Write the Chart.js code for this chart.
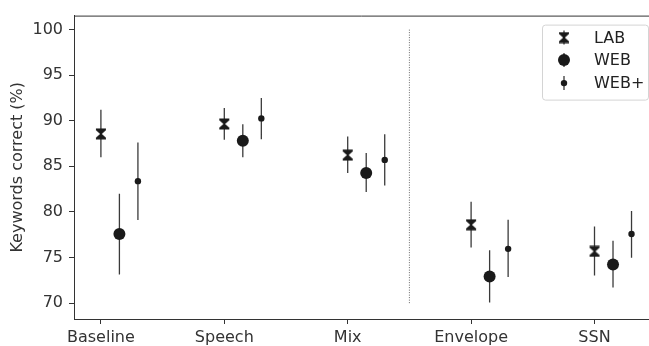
<!DOCTYPE html>
<html>
<head>
<meta charset="utf-8">
<script src="https://cdn.jsdelivr.net/npm/chart.js@4.4.1/dist/chart.umd.min.js"></script>
<style>
  html, body { margin: 0; padding: 0; background: #fff; }
  #wrap { width: 649px; height: 346px; position: relative; }
</style>
</head>
<body>
<div id="wrap"><canvas id="chart"></canvas></div>
<script>
const categories = ["Baseline", "Speech", "Mix", "Envelope", "SSN"];
const seriesNames = ["LAB", "WEB", "WEB+"];

const labMean = [88.55, 89.64, 86.23, 78.59, 75.68];
const labLow = [86.0, 87.9, 84.27, 76.1, 73.04];
const labHigh = [91.2, 91.4, 88.26, 81.1, 78.4];

const webMean = [77.57, 87.8, 84.27, 72.93, 74.24];
const webLow = [73.15, 86.0, 82.17, 70.07, 71.7];
const webHigh = [82.0, 89.6, 86.45, 75.8, 76.85];

const webPlusMean = [83.37, 90.25, 85.7, 75.95, 77.57];
const webPlusLow = [79.1, 87.97, 82.9, 72.86, 74.97];
const webPlusHigh = [87.6, 92.5, 88.5, 79.13, 80.1];

const yTicks = [70, 75, 80, 85, 90, 95, 100];
const seriesOffsets = [0, 0.15, 0.3];
const dividerX = 2.5;
const dividerRange = [70, 100];

const ink = "#1a1a1a";
const textColor = "#333";
const font = "'DejaVu Sans', sans-serif";

// hourglass marker for LAB
const hourglass = document.createElement("canvas");
hourglass.width = 12;
hourglass.height = 12;
(() => {
  const c = hourglass.getContext("2d");
  c.fillStyle = ink;
  c.beginPath();
  c.moveTo(1, 0.5);
  c.lineTo(11, 0.5);
  c.lineTo(11, 2.2);
  c.lineTo(6.9, 6);
  c.lineTo(11, 9.8);
  c.lineTo(11, 11.5);
  c.lineTo(1, 11.5);
  c.lineTo(1, 9.8);
  c.lineTo(5.1, 6);
  c.lineTo(1, 2.2);
  c.closePath();
  c.fill();
})();

const markerStyles = [
  { pointStyle: hourglass, radius: 6 },
  { pointStyle: "circle", radius: 6 },
  { pointStyle: "circle", radius: 3.2 },
];

const means = [labMean, webMean, webPlusMean];
const lows = [labLow, webLow, webPlusLow];
const highs = [labHigh, webHigh, webPlusHigh];

const datasets = [];
means.forEach((m, s) => {
  datasets.push({
    type: "scatter",
    label: seriesNames[s],
    data: m.map((v, i) => ({ x: i + seriesOffsets[s], y: v })),
    pointStyle: markerStyles[s].pointStyle,
    pointRadius: markerStyles[s].radius,
    pointHoverRadius: markerStyles[s].radius,
    backgroundColor: ink,
    borderColor: ink,
    borderWidth: 0,
    order: 0,
  });
  // error bars: low -> high segments separated by gaps
  const err = [];
  m.forEach((v, i) => {
    const x = i + seriesOffsets[s];
    err.push({ x: x, y: lows[s][i] }, { x: x, y: highs[s][i] }, { x: x, y: null });
  });
  datasets.push({
    type: "line",
    label: seriesNames[s] + " err",
    data: err,
    borderColor: "#3a3a3a",
    borderWidth: 1.3,
    pointRadius: 0,
    spanGaps: false,
    fill: false,
    order: 1,
  });
});

datasets.push({
  type: "line",
  label: "divider",
  data: [{ x: dividerX, y: dividerRange[0] }, { x: dividerX, y: dividerRange[1] }],
  borderColor: "#666",
  borderWidth: 1,
  borderDash: [1, 1.5],
  pointRadius: 0,
  order: 2,
});

const framePlugin = {
  id: "frame",
  afterDraw(chart) {
    const { ctx, chartArea } = chart;
    ctx.save();
    // top spine runs to the edge of the figure, bottom one too
    ctx.strokeStyle = "#333";
    ctx.lineWidth = 1;
    ctx.beginPath();
    ctx.moveTo(chartArea.left, chartArea.top + 0.5);
    ctx.lineTo(chart.width, chartArea.top + 0.5);
    ctx.moveTo(chartArea.right - 1, chartArea.bottom + 0.5);
    ctx.lineTo(chart.width, chartArea.bottom + 0.5);
    ctx.stroke();

    // legend box
    const bx = 542, by = chartArea.top + 9, bw = 106, bh = 75;
    ctx.fillStyle = "rgba(255,255,255,0.8)";
    ctx.strokeStyle = "#d4d4d4";
    ctx.beginPath();
    ctx.roundRect(bx + 0.5, by + 0.5, bw, bh, 3);
    ctx.fill();
    ctx.stroke();

    ctx.font = "16px " + font;
    ctx.textBaseline = "middle";
    const rows = [by + 13, by + 35.5, by + 58.5];
    seriesNames.forEach((name, s) => {
      const mx = bx + 22, my = rows[s];
      ctx.strokeStyle = "#3a3a3a";
      ctx.lineWidth = 1.3;
      ctx.beginPath();
      ctx.moveTo(mx, my - 7);
      ctx.lineTo(mx, my + 7);
      ctx.stroke();
      if (s === 0) {
        ctx.drawImage(hourglass, mx - 6, my - 6);
      } else {
        ctx.fillStyle = ink;
        ctx.beginPath();
        ctx.arc(mx, my, markerStyles[s].radius, 0, Math.PI * 2);
        ctx.fill();
      }
      ctx.fillStyle = "#222";
      ctx.fillText(name, bx + 52, my + 1);
    });
    ctx.restore();
  },
};

new Chart(document.getElementById("chart"), {
  data: { datasets: datasets },
  options: {
    responsive: true,
    maintainAspectRatio: false,
    animation: false,
    layout: { padding: { top: 13, right: 0, left: 0, bottom: 0 } },
    plugins: {
      legend: { display: false },
      tooltip: { enabled: false },
    },
    scales: {
      x: {
        type: "linear",
        min: -0.218,
        max: 4.393,
        afterBuildTicks: (scale) => {
          scale.ticks = categories.map((c, i) => ({ value: i }));
        },
        afterFit: (scale) => {
          scale.height = 27;
          scale.paddingLeft = 0;
          scale.paddingRight = 0;
        },
        ticks: {
          callback: (v) => categories[v],
          color: textColor,
          font: { family: font, size: 16 },
          padding: 4,
          maxRotation: 0,
        },
        grid: {
          drawOnChartArea: false,
          tickLength: 5,
          color: "#333",
        },
        border: { color: "#333", width: 1 },
      },
      y: {
        type: "linear",
        min: 68.26,
        max: 101.52,
        afterBuildTicks: (scale) => {
          scale.ticks = yTicks.map((v) => ({ value: v }));
        },
        afterFit: (scale) => {
          scale.width = 74;
        },
        ticks: {
          color: textColor,
          font: { family: font, size: 16 },
          padding: 6,
        },
        grid: {
          drawOnChartArea: false,
          tickLength: 5,
          color: "#333",
        },
        border: { color: "#333", width: 1 },
        title: {
          display: true,
          text: "Keywords correct (%)",
          color: textColor,
          font: { family: font, size: 16 },
          padding: { top: 8, bottom: 0 },
        },
      },
    },
  },
  plugins: [framePlugin],
});
</script>
</body>
</html>
